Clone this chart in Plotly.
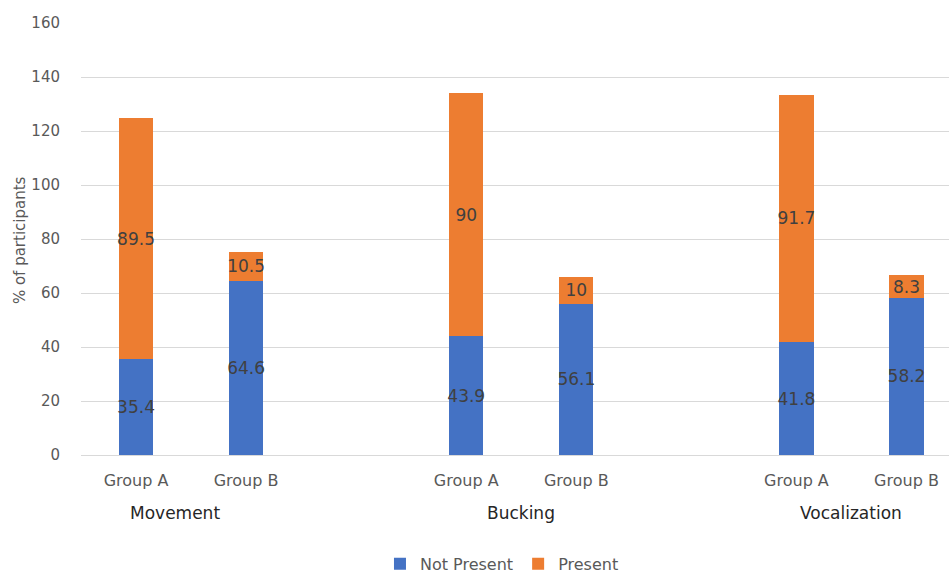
import plotly.graph_objects as go

behaviours = ["Movement", "Bucking", "Vocalization"]
groups = ["Group A", "Group B"]
not_present = [35.4, 64.6, 43.9, 56.1, 41.8, 58.2]
present = [89.5, 10.5, 90, 10, 91.7, 8.3]
y_ticks = [0, 20, 40, 60, 80, 100, 120, 140, 160]

# slot positions: two groups per behaviour plus one empty slot between behaviours
xpos = [b * 3 + g for b in range(len(behaviours)) for g in range(len(groups))]
xtext = [groups[g] for b in range(len(behaviours)) for g in range(len(groups))]
group_mid = [b * 3 + 0.5 for b in range(len(behaviours))]
label_shift = [-16, 0, 0]

FONT = "DejaVu Sans"
fig = go.Figure()
fig.add_bar(x=xpos, y=not_present, name="Not Present", marker_color="#4472C4",
            text=[str(v) for v in not_present])
fig.add_bar(x=xpos, y=present, name="Present", marker_color="#ED7D31",
            text=[str(v) for v in present])
fig.update_traces(width=0.31, textposition="inside", insidetextanchor="middle",
                  textangle=0, constraintext="none",
                  textfont=dict(family=FONT, size=17, color="#404040"),
                  marker_line_width=0)

for x, name, sh in zip(group_mid, behaviours, label_shift):
    fig.add_annotation(x=x, y=-0.134, xref="x", yref="paper", text=name,
                       showarrow=False, yanchor="middle", xshift=sh,
                       font=dict(family=FONT, size=17, color="#262626"))

fig.add_annotation(x=-0.070, y=0.498, xref="paper", yref="paper",
                   text="% of participants", textangle=-90, showarrow=False,
                   xanchor="center", yanchor="middle",
                   font=dict(family=FONT, size=15, color="#595959"))

fig.update_layout(
    barmode="stack",
    width=949, height=577,
    margin=dict(l=81, r=0, t=23, b=122, autoexpand=False),
    plot_bgcolor="white", paper_bgcolor="white",
    font=dict(family=FONT, color="#595959"),
    legend=dict(orientation="h", x=0.485, xanchor="center", y=-0.252,
                yanchor="middle", traceorder="normal",
                font=dict(family=FONT, size=16, color="#595959"),
                itemwidth=30),
    xaxis=dict(range=[-0.5, 7.386], tickvals=xpos, ticktext=xtext,
               showgrid=False, zeroline=False, showline=False,
               tickfont=dict(family=FONT, size=16, color="#595959"),
               ticks="", ticklabelstandoff=14),
    yaxis=dict(range=[0, 160], tickvals=y_ticks, showgrid=True,
               gridcolor="#D9D9D9", gridwidth=1, zeroline=True,
               zerolinecolor="#D9D9D9", zerolinewidth=1, showline=False,
               tickfont=dict(family=FONT, size=15, color="#595959"),
               ticks="", ticklabelstandoff=20),
)

fig.write_html("out.html")
